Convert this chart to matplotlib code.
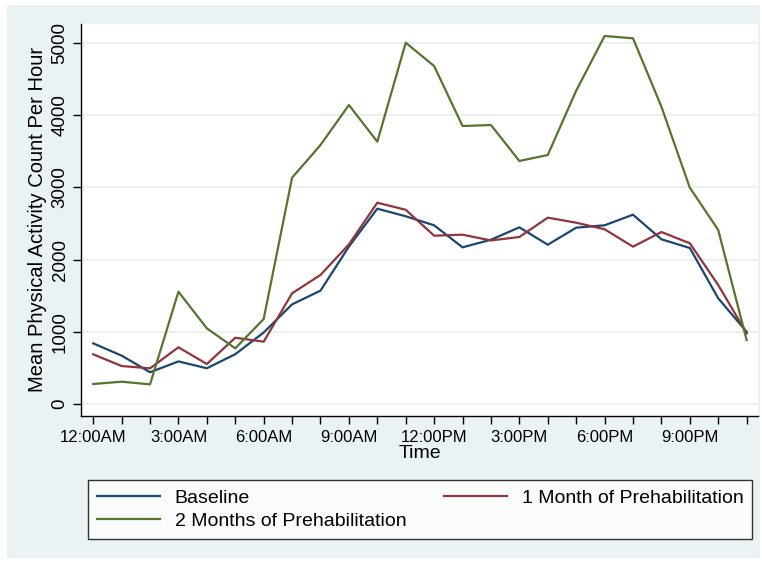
import matplotlib
matplotlib.use("Agg")
from matplotlib import pyplot as plt
from matplotlib.patches import Rectangle

plt.rcParams["font.family"] = ["Liberation Sans", "DejaVu Sans"]

hours = list(range(24))
tick_labels = ["12:00AM", "3:00AM", "6:00AM", "9:00AM",
               "12:00PM", "3:00PM", "6:00PM", "9:00PM"]

baseline = [840, 670, 440, 590, 495, 690, 990, 1380, 1570, 2180, 2705, 2600,
            2475, 2170, 2275, 2447, 2206, 2442, 2475, 2622, 2281, 2161, 1464, 1000]
one_month = [688, 526, 494, 785, 554, 918, 863, 1533, 1787, 2210, 2788, 2690,
             2331, 2345, 2265, 2313, 2581, 2511, 2420, 2179, 2382, 2226, 1648, 980]
two_months = [277, 309, 272, 1555, 1048, 771, 1177, 3134, 3587, 4141, 3633, 5004,
              4681, 3850, 3864, 3366, 3449, 4339, 5097, 5065, 4118, 2996, 2410, 886]

navy = "#1a476f"
maroon = "#90353b"
green = "#55752f"
panel = "#eaf2f3"

fig = plt.figure(figsize=(7.62, 5.63), dpi=100)
fig.patch.set_facecolor("white")
fig.patches.append(Rectangle((7 / 762, 5 / 563), 753 / 762, 553 / 563,
                             transform=fig.transFigure, facecolor=panel,
                             edgecolor="none", zorder=-10))

ax = fig.add_axes([81 / 762, 1 - 415.7 / 563, 677 / 762, 391.7 / 563])
ax.set_facecolor("white")

l_base, = ax.plot(hours, baseline, color=navy, lw=1.6, label="Baseline")
l_one, = ax.plot(hours, one_month, color=maroon, lw=1.6,
                 label="1 Month of Prehabilitation")
l_two, = ax.plot(hours, two_months, color=green, lw=1.6,
                 label="2 Months of Prehabilitation")

ax.set_xlim(-0.43, 23.4)
ax.set_ylim(-162, 5263)
ax.set_xticks(hours)
ax.set_xticklabels([tick_labels[h // 3] if h % 3 == 0 else "" for h in hours])
ax.set_yticks([0, 1000, 2000, 3000, 4000, 5000])
for lab in ax.get_yticklabels():
    lab.set_rotation(90)
    lab.set_va("center")
    lab.set_fontsize(13.5)

ax.tick_params(axis="both", direction="out", length=6, width=1,
               color="black", labelcolor="black")
ax.tick_params(axis="x", pad=4, labelsize=12)
ax.tick_params(axis="y", pad=3)

ax.grid(axis="y", color="#e8eef0", lw=1.2)
ax.set_axisbelow(True)
for side in ("top", "right"):
    ax.spines[side].set_visible(False)
for side in ("left", "bottom"):
    ax.spines[side].set_linewidth(1)

ax.set_xlabel("Time", fontsize=14, labelpad=0)
ax.set_ylabel("Mean Physical Activity Count Per Hour", fontsize=14.5, labelpad=3)

leg = fig.legend([l_base, l_two, l_one],
                 [l_base.get_label(), l_two.get_label(), l_one.get_label()],
                 loc="lower left", ncol=2, mode="expand",
                 bbox_to_anchor=(88 / 762, 1 - 539 / 563, 664 / 762, 64 / 563),
                 fontsize=14, frameon=True, fancybox=False, edgecolor="black",
                 handlelength=3.25, handletextpad=0.75, borderaxespad=0,
                 labelspacing=0.3, borderpad=0.45)
leg.get_frame().set_linewidth(1)

fig.savefig("out.png", dpi=100, facecolor=fig.get_facecolor())
